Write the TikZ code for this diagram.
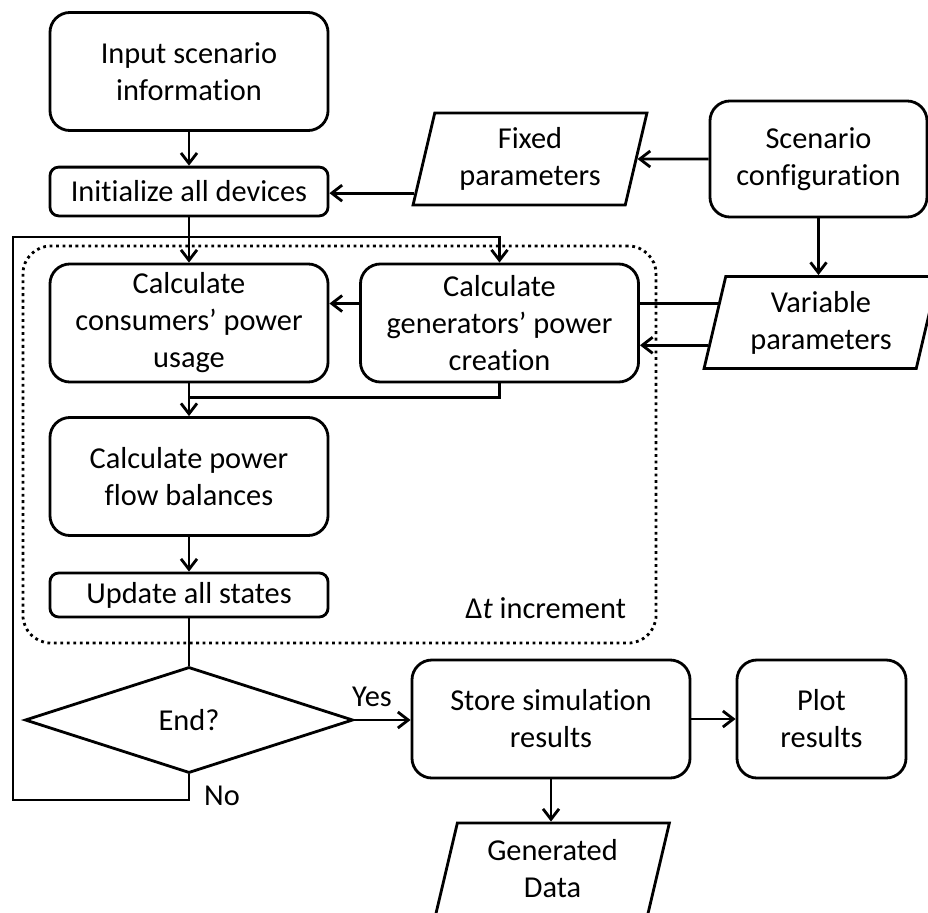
\documentclass[tikz,border=0pt]{standalone}
\usepackage{fontspec}
\setmainfont{Carlito}[Ligatures={TeX,NoCommon}]
\usetikzlibrary{shapes.geometric, arrows.meta, positioning, calc}

\begin{document}
\begin{tikzpicture}[x=0.025cm, y=-0.025cm, line width=2pt,
    >={Straight Barb[length=2.6mm,width=4mm]},
    every node/.style={font=\fontsize{21.6}{26.3}\selectfont, align=center},
    block/.style={draw, rounded corners=0.5cm, minimum width=6.95cm, minimum height=2.95cm, inner sep=2pt},
    smallblock/.style={draw, rounded corners=0.22cm, minimum width=6.95cm, minimum height=1.22cm, inner sep=2pt},
    iobox/.style={draw, trapezium, trapezium left angle=76, trapezium right angle=104,
        trapezium stretches=true, minimum width=5.85cm, minimum height=2.3cm, inner sep=1pt},
    decision/.style={draw, diamond, minimum width=8.2cm, minimum height=2.65cm, inner sep=0pt},
    frameline/.style={line width=2pt, dash pattern=on 2pt off 2.6pt, rounded corners=0.7cm}]

    % Fix the page size
    \useasboundingbox (0,0) rectangle (928,913);

    % Time-step loop frame
    \node[draw, frameline, minimum width=15.825cm, minimum height=9.925cm] (loop) at (339.5,444.5) {};
    \node[anchor=east] (dt) at (632,608) {Δ\textit{t} increment};

    % Blocks
    \node[block] (input) at (189,71.5) {Input scenario\\information};
    \node[smallblock] (init) at (189,191.5) {Initialize all devices};
    \node[iobox] (fixed) at (530,159) {Fixed\\parameters};
    \node[block, minimum width=5.425cm, minimum height=2.9cm] (scen) at (818.5,159) {Scenario\\configuration};
    \node[iobox] (var) at (821,322.5) {Variable\\parameters};
    \node[block] (cons) at (189,323) {Calculate\\consumers' power\\usage};
    \node[block] (gen) at (499.5,323) {Calculate\\generators' power\\creation};
    \node[block] (flow) at (189,476.5) {Calculate power\\flow balances};
    \node[smallblock, minimum height=1.1cm] (upd) at (189,595) {Update all states};
    \node[decision] (dec) at (189,720) {End?};
    \node[block] (store) at (551,719) {Store simulation\\results};
    \node[block, minimum width=4.225cm] (plot) at (821.5,719) {Plot\\results};
    \node[iobox] (data) at (552.5,869) {Generated\\Data};

    % Points on the slanted sides
    \coordinate (fx) at ($(fixed.bottom left corner)!0.14!(fixed.top left corner)$);
    \coordinate (v1) at ($(var.bottom left corner)!0.70!(var.top left corner)$);
    \coordinate (v2) at ($(var.bottom left corner)!0.26!(var.top left corner)$);
    \coordinate (nocorner) at (13,800);
    \coordinate (topline) at (13,237);
    \coordinate (join) at ($(cons.south)!0.44!(flow.north)$);

    % Connectors
    \draw[->] (input) -- (init);
    \draw[->] (scen) -- (fixed);
    \draw[->] (fx) -- (fx -| init.east);
    \draw[->] (scen.south) -- (scen.south |- var.north);
    \draw[->] (init) -- (cons);
    \draw (gen.east |- v1) -- (v1);
    \draw[->] (v2) -- (v2 -| gen.east);
    \draw[->] (gen.west |- v1) -- (v1 -| cons.east);
    \draw[->] (cons) -- (flow);
    \draw (gen.south) |- (join);
    \draw[->] (flow) -- (upd);
    \draw (upd) -- (dec);
    \draw[->] (dec.east) -- (dec.east -| store.west);
    \draw[->] (store) -- (plot);
    \draw[->] (store.south) -- (store.south |- data.north);
    \draw[->] (dec.south) |- (nocorner) -- (topline) -| (gen.north);

    % Branch labels
    \node (yes) at (372,697) {Yes};
    \node (no) at (222,796) {No};

\end{tikzpicture}
\end{document}
